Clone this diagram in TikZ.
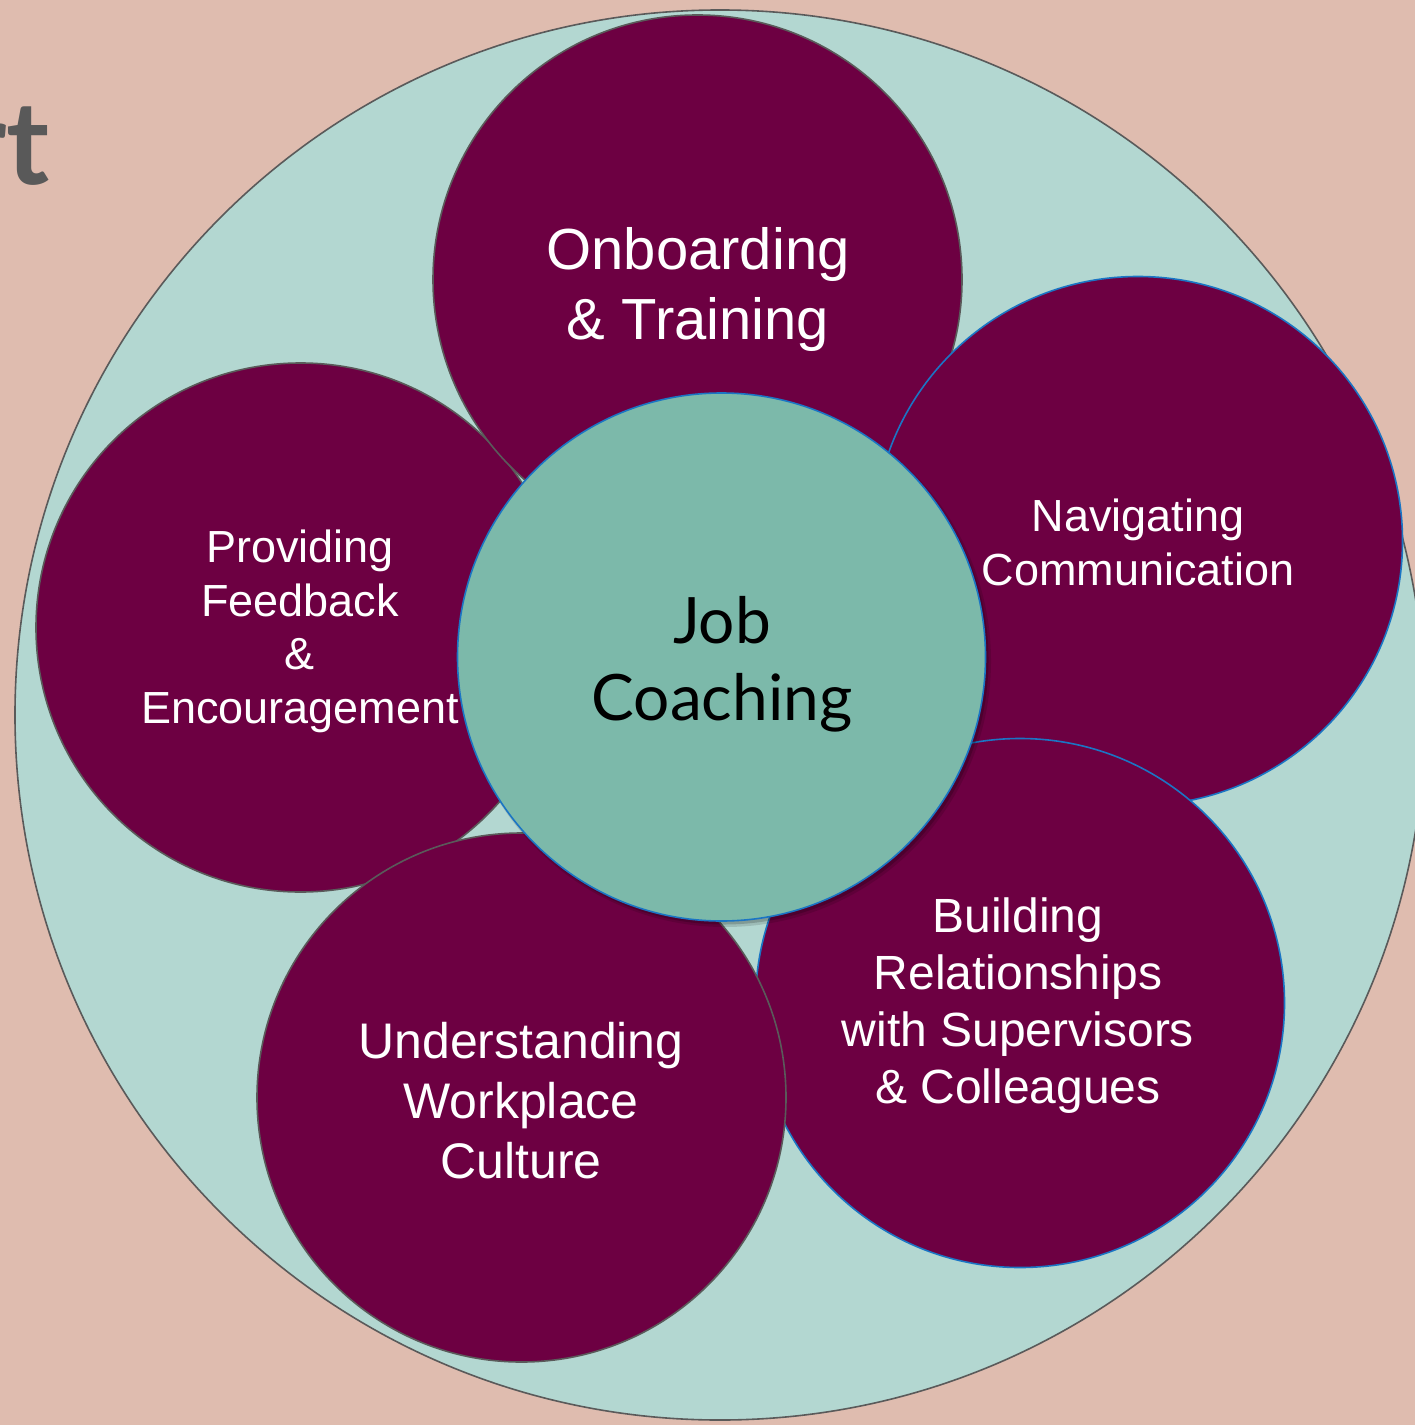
\documentclass[tikz,border=0pt]{standalone}
\usepackage{fontspec}
\newfontfamily\arialf{Liberation Sans}
\newfontfamily\latof{Lato}
\definecolor{bgc}{HTML}{DFBCAF}
\definecolor{ringc}{HTML}{B3D7D1}
\definecolor{maroonc}{HTML}{6D0042}
\definecolor{corec}{HTML}{7CB9AA}
\definecolor{bluec}{HTML}{1B75C4}
\definecolor{grayline}{HTML}{5A5A5A}
\definecolor{titlec}{HTML}{595959}
\tikzset{
  petal/.style={circle, fill=maroonc, minimum size=529bp, inner sep=0pt, line width=1.6bp},
  petalgray/.style={petal, draw=grayline},
  petalblue/.style={petal, draw=bluec},
  % anchor=base sits on the baseline of the last line
  label/.style={text=white, align=center, inner sep=0pt, anchor=base},
}
\begin{document}
\begin{tikzpicture}[x=1bp, y=-1bp]
  \useasboundingbox (0,0) rectangle (1415,1425);
  \begin{scope}
    \clip (0,0) rectangle (1415,1425);
    \fill[bgc] (0,0) rectangle (1415,1425);
    % outer ring
    \node[circle, fill=ringc, draw=grayline, line width=1.6bp, minimum size=1410bp, inner sep=0pt] (ring) at (720,715) {};
    % heading fragment at the left edge
    \node[text=titlec, anchor=base east, inner sep=0pt, font=\latof\bfseries\fontsize{116bp}{120bp}\selectfont] (head) at (50,185) {rt};
    % surrounding topics, stacked in drawing order
    \node[petalgray] (feed) at (300.5,627.5) {};
    \node[petalgray] (onb) at (697.5,279.5) {};
    \node[petalblue] (nav) at (1138,541) {};
    \node[petalblue] (build) at (1020,1003) {};
    \node[petalgray] (cult) at (521.5,1097.5) {};
    % central topic with soft shadow
    \fill[black, opacity=0.12] (725,661) circle (266bp);
    \fill[black, opacity=0.18] (724,660) circle (264.5bp);
    \node[circle, fill=corec, draw=bluec, line width=1.6bp, minimum size=528bp, inner sep=0pt] (core) at (721.5,657) {};
    % labels
    \node[label, font=\arialf\fontsize{58bp}{69bp}\selectfont] (tonb) at (698,339) {Onboarding\\\& Training};
    \node[label, font=\arialf\fontsize{45bp}{53.5bp}\selectfont] (tnav) at (1138,585) {Navigating\\Communication};
    \node[label, font=\arialf\fontsize{45bp}{53.5bp}\selectfont] (tfeed) at (300,723) {Providing\\Feedback\\\&\\Encouragement};
    \node[label, font=\arialf\fontsize{48bp}{57bp}\selectfont] (tbuild) at (1018,1103) {Building\\Relationships\\with Supervisors\\\& Colleagues};
    \node[label, font=\arialf\fontsize{50bp}{60bp}\selectfont] (tcult) at (521,1178) {Understanding\\Workplace\\Culture};
    \node[label, text=black, font=\latof\fontsize{64bp}{77bp}\selectfont] (tcore) at (722,720) {Job\\Coaching};
  \end{scope}
\end{tikzpicture}
\end{document}
